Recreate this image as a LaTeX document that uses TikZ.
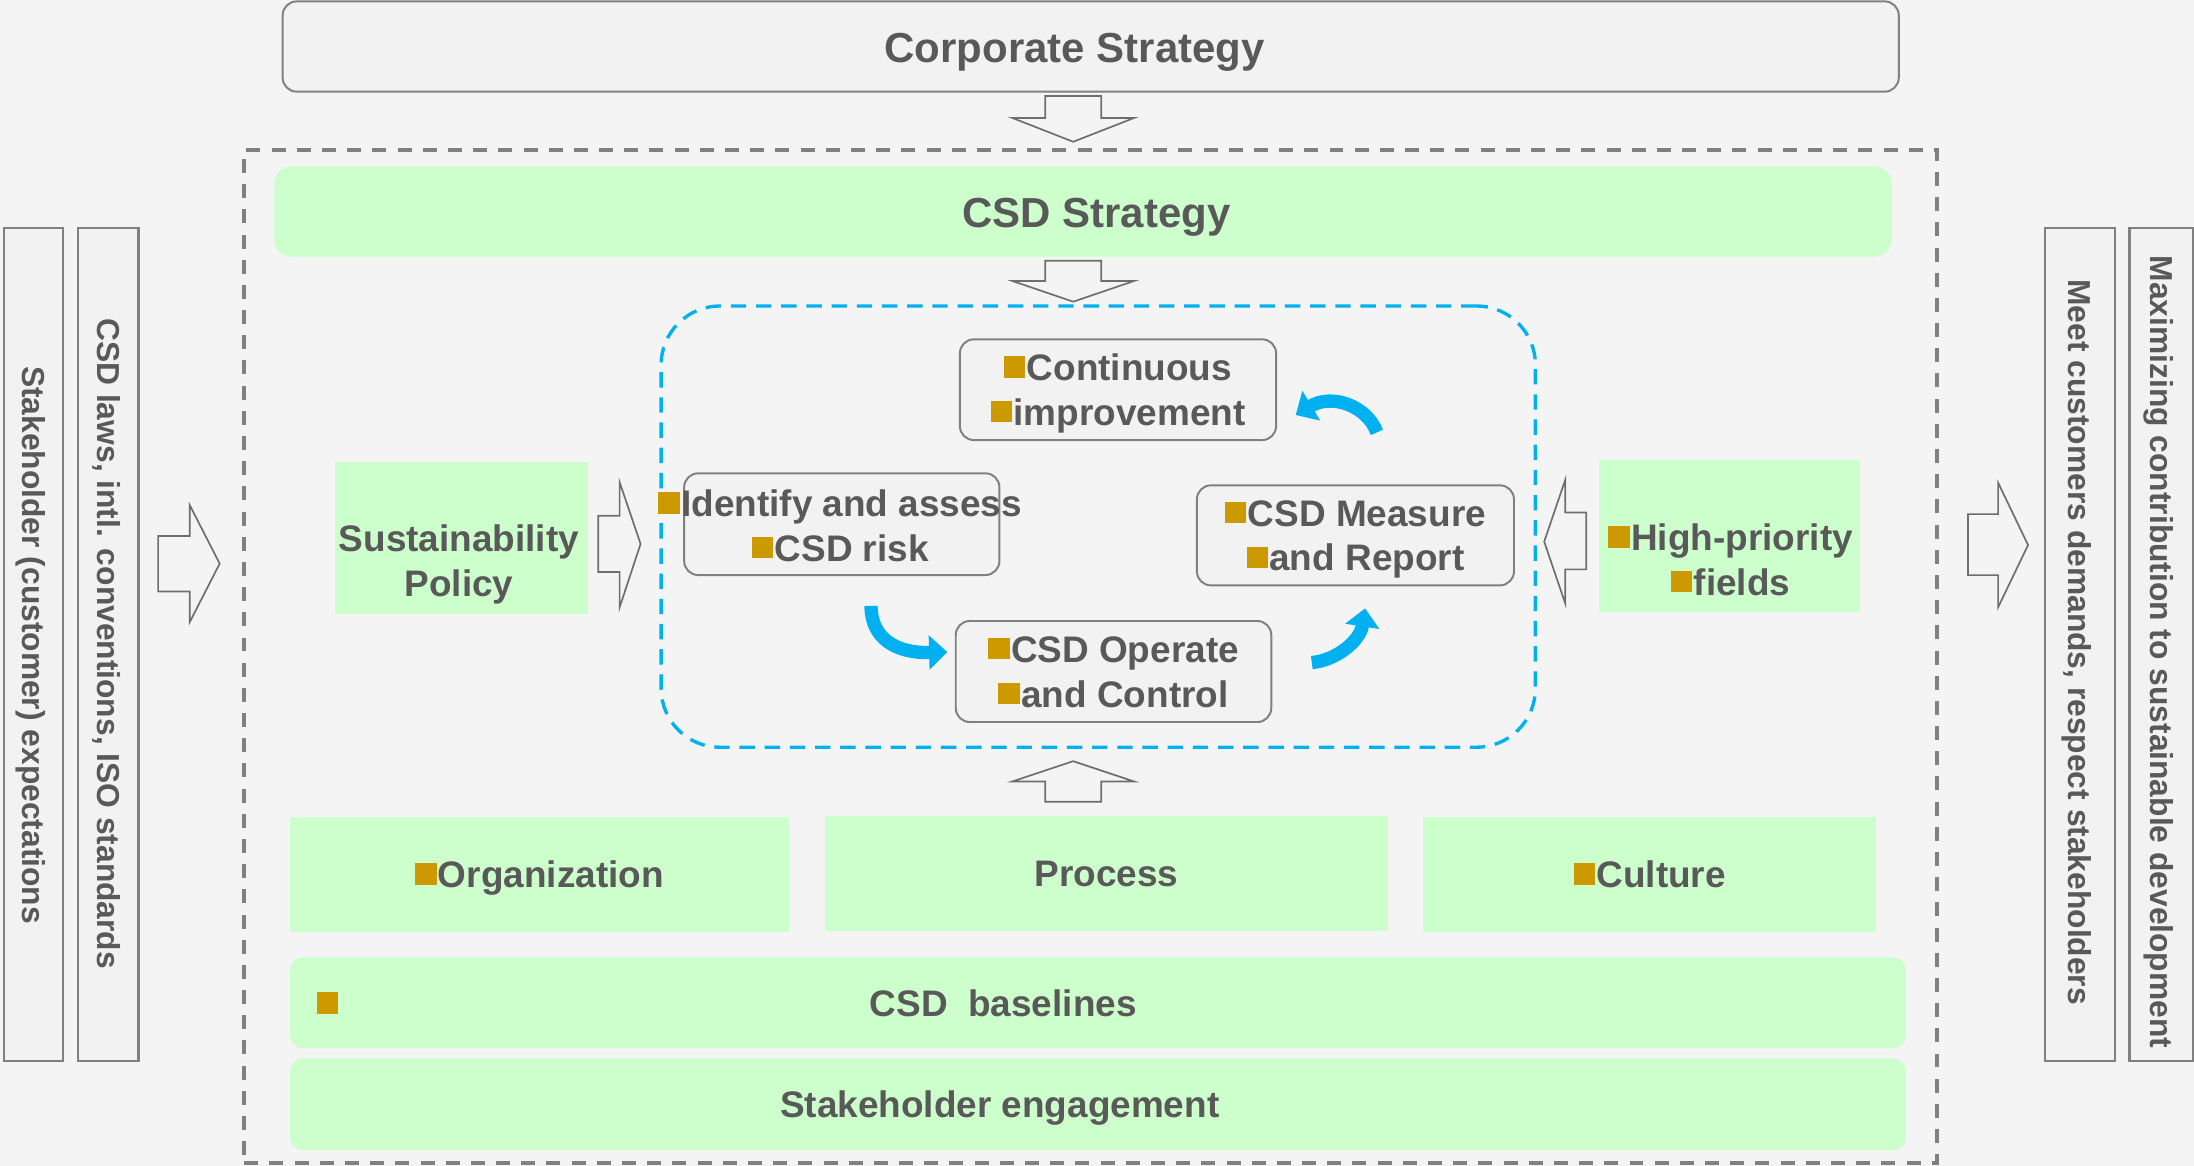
\documentclass[tikz,border=0pt]{standalone}
\usepackage{fontspec}
\setmainfont{Liberation Sans}
\usetikzlibrary{arrows.meta}
\definecolor{bgc}{HTML}{F4F4F4}
\definecolor{boxfill}{HTML}{F2F2F2}
\definecolor{boxline}{HTML}{808080}
\definecolor{grn}{HTML}{CCFFCC}
\definecolor{tc}{HTML}{595959}
\definecolor{gold}{HTML}{CC9900}
\definecolor{cyanb}{HTML}{00B0F0}
\definecolor{arrline}{HTML}{6E6E6E}
\newcommand\lstrut{\rule[-0.248em]{0pt}{1.212em}}
\newcommand\gsq{\textcolor{gold}{\rule[0.08em]{0.58em}{0.58em}}\hspace{0.04em}}
\tikzset{
  gbox/.style={fill=grn, draw=none, inner sep=0pt},
  wbox/.style={fill=boxfill, draw=boxline, line width=1.4pt, rounded corners=10pt, inner sep=0pt},
  vbox/.style={fill=boxfill, draw=boxline, line width=1.6pt, inner sep=0pt},
  txt/.style={inner sep=0pt, align=center, text=tc, font=\bfseries\fontsize{26.4}{32}\selectfont},
  bigtxt/.style={txt, font=\bfseries\fontsize{30}{36}\selectfont},
  vtxt/.style={txt, font=\bfseries\fontsize{22.7}{27.5}\selectfont, rotate=-90},
  barrow/.style={draw=arrline, line width=1.2pt, line join=miter},
  cyc/.style={draw=cyanb, line width=9.5pt, -{Triangle[length=13pt,width=24pt]}},
}
\begin{document}
\begin{tikzpicture}[x=1pt,y=-1pt]
\path[use as bounding box] (0,0) rectangle (1568,833.3);
\fill[bgc] (0,0) rectangle (1568,833.3);

% side boxes
\node[vbox, minimum width=42pt, minimum height=595.3pt] (l1) at (24,460.35) {};
\node[vbox, minimum width=43pt, minimum height=595.3pt] (l2) at (77.5,460.35) {};
\node[vbox, minimum width=50pt, minimum height=595.3pt] (r1) at (1486.6,460.35) {};
\node[vbox, minimum width=45.8pt, minimum height=595.3pt] (r2) at (1544.7,460.35) {};
\node[vtxt] (l1t) at (24,461) {\lstrut Stakeholder (customer) expectations};
\node[vtxt] (l2t) at (77.5,460) {\lstrut CSD laws, intl. conventions, ISO standards};
\node[vtxt] (r1t) at (1486.6,459) {\lstrut Meet customers demands, respect stakeholders};
\node[vtxt] (r2t) at (1544.7,466) {\lstrut Maximizing contribution to sustainable development};

% corporate strategy
\node[wbox, minimum width=1155pt, minimum height=64.5pt] (corp) at (779.5,33.25) {};
\node[bigtxt] (corpt) at (768,34) {\lstrut Corporate Strategy};

% outer dashed frame
\node[draw=boxline, line width=2.6pt, dash pattern=on 10pt off 8pt, inner sep=0pt,
      minimum width=1209.9pt, minimum height=723.8pt] (outer) at (779.5,469.1) {};

% CSD strategy
\node[gbox, rounded corners=12pt, minimum width=1156pt, minimum height=64.4pt] (csd) at (774,151.2) {};
\node[bigtxt] (csdt) at (783.5,152) {\lstrut CSD Strategy};

% policy and priority boxes
\node[gbox, minimum width=181.2pt, minimum height=108.3pt] (sp) at (329.9,384.4) {};
\node[txt] (spt) at (328,401) {\lstrut Sustainability\\\lstrut Policy};
\node[gbox, minimum width=186pt, minimum height=108.4pt] (hp) at (1236,383) {};
\node[txt] (hpt) at (1236.8,400) {\lstrut\gsq High-priority\\\lstrut\gsq fields};

% bottom row
\node[gbox, txt, minimum width=356.5pt, minimum height=82.2pt] (org) at (385.5,624.8) {\lstrut\gsq Organization};
\node[gbox, txt, minimum width=403pt, minimum height=82pt] (proc) at (790.8,624) {\lstrut Process};
\node[gbox, txt, minimum width=324pt, minimum height=82.2pt] (cult) at (1179,624.8) {\lstrut\gsq Culture};
\node[gbox, rounded corners=9pt, minimum width=1154.7pt, minimum height=65pt] (base) at (784.7,716.7) {};
\node[txt] (baset) at (717,717) {\lstrut CSD\ \ baselines};
\node[inner sep=0pt, fill=gold, minimum width=14.8pt, minimum height=15.6pt] (basesq) at (234,716.9) {};
\node[gbox, rounded corners=9pt, minimum width=1154.7pt, minimum height=65.6pt] (stk) at (784.7,789.2) {};
\node[txt] (stkt) at (714.5,789) {\lstrut Stakeholder engagement};

% cycle frame
\node[draw=cyanb, line width=2.4pt, dash pattern=on 11pt off 7pt, rounded corners=42pt, inner sep=0pt,
      minimum width=624.8pt, minimum height=315.3pt] (pdca) at (784.9,376.35) {};

% cycle boxes
\node[wbox, txt, minimum width=226pt, minimum height=72pt] (cont) at (799,278.5) {\lstrut\gsq Continuous\\\lstrut\gsq improvement};
\node[wbox, minimum width=225.3pt, minimum height=72.7pt] (ident) at (601.6,374.6) {};
\node[txt] (identt) at (600.5,375.7) {\lstrut\gsq Identify and assess\\\lstrut\gsq CSD risk};
\node[wbox, txt, minimum width=226.6pt, minimum height=71.5pt] (meas) at (968.7,382.6) {\lstrut\gsq CSD Measure\\\lstrut\gsq and Report};
\node[wbox, txt, minimum width=225.5pt, minimum height=72.2pt] (oper) at (795.8,479.9) {\lstrut\gsq CSD Operate\\\lstrut\gsq and Control};

% block arrows
\draw[barrow] (747,68.6) -- (787,68.6) -- (787,84.3) -- (810.5,84.3) -- (767,101.3) -- (723.5,84.3) -- (747,84.3) -- cycle;
\draw[barrow] (747,186.3) -- (787,186.3) -- (787,200.8) -- (810.5,200.8) -- (767,215.6) -- (723.5,200.8) -- (747,200.8) -- cycle;
\draw[barrow] (747,573) -- (787,573) -- (787,558.5) -- (810.5,558.5) -- (767,544) -- (723.5,558.5) -- (747,558.5) -- cycle;
\draw[barrow] (113,383) -- (135.6,383) -- (135.6,361) -- (157,402.8) -- (135.6,444.6) -- (135.6,422.7) -- (113,422.7) -- cycle;
\draw[barrow] (427.5,368.6) -- (442.8,368.6) -- (442.8,344.5) -- (457.8,388.7) -- (442.8,434.2) -- (442.8,408.8) -- (427.5,408.8) -- cycle;
\draw[barrow] (1133.7,366.2) -- (1118.6,366.2) -- (1118.6,343) -- (1103.6,387.1) -- (1118.6,431.2) -- (1118.6,406.9) -- (1133.7,406.9) -- cycle;
\draw[barrow] (1406.4,367.4) -- (1428,367.4) -- (1428,345) -- (1449.4,389.5) -- (1428,434) -- (1428,411) -- (1406.4,411) -- cycle;

% cycle arrows
\coordinate (c1s) at (622.5,433);
\coordinate (c1e) at (677,466);
\coordinate (c2s) at (937.5,473.5);
\coordinate (c2e) at (975.6,434.8);
\coordinate (c3s) at (984,309);
\coordinate (c3e) at (926,296.6);
\draw[cyc] (c1s) .. controls (622.5,456) and (640,467) .. (c1e);
\draw[cyc] (c2s) .. controls (955,472) and (972,458) .. (c2e);
\draw[cyc] (c3s) .. controls (977,290) and (952,281) .. (c3e);
\end{tikzpicture}
\end{document}
